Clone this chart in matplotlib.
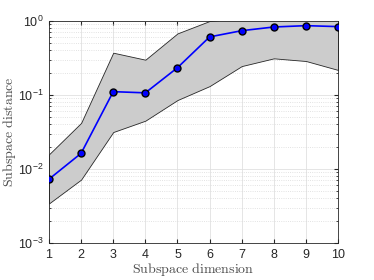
import numpy as np
import matplotlib
matplotlib.use("Agg")
import matplotlib.pyplot as plt
from matplotlib.ticker import LogLocator, NullFormatter

plt.rcParams['font.family'] = ['Liberation Sans', 'DejaVu Sans']
plt.rcParams['mathtext.fontset'] = 'custom'
plt.rcParams['mathtext.rm'] = 'Liberation Sans'
plt.rcParams['mathtext.it'] = 'Liberation Sans:italic'

# values
dims = [1, 2, 3, 4, 5, 6, 7, 8, 9, 10]
mean_dist = [0.0073, 0.0163, 0.111, 0.107, 0.234, 0.61, 0.74, 0.83, 0.865, 0.84]
upper = [0.0158, 0.042, 0.373, 0.30, 0.68, 1.0, 1.1, 1.15, 1.15, 1.1]
lower = [0.00343, 0.0072, 0.0316, 0.045, 0.0855, 0.132, 0.246, 0.313, 0.288, 0.218]

fig = plt.figure(figsize=(3.74, 2.8), dpi=100)
ax = fig.add_axes([0.131, 0.132, 0.773, 0.793])

ax.fill_between(dims, lower, upper, facecolor=(0.8, 0.8, 0.8),
                edgecolor=(0.15, 0.15, 0.15), linewidth=0.6, zorder=2)
ax.plot(dims, mean_dist, '-o', color='b', linewidth=1.2, markersize=5,
        markerfacecolor='b', markeredgecolor='k', markeredgewidth=1.0, zorder=3)

ax.set_yscale('log')
ax.set_xlim(1, 10)
ax.set_ylim(1e-3, 1)
ax.set_xticks(dims)
ax.yaxis.set_major_locator(LogLocator(base=10, numticks=10))
ax.yaxis.set_minor_locator(LogLocator(base=10, subs=np.arange(2, 10), numticks=10))
ax.yaxis.set_minor_formatter(NullFormatter())

ax.grid(True, which='major', color=(0.88, 0.88, 0.88), linewidth=0.6, zorder=0)
ax.grid(True, which='minor', axis='y', color=(0.85, 0.85, 0.85),
        linestyle=':', linewidth=0.6, zorder=0)
ax.set_axisbelow(True)

ax.tick_params(which='both', direction='in', top=True, right=True,
               labelsize=9, colors=(0.15, 0.15, 0.15))
ax.tick_params(which='major', length=3, pad=4)
ax.tick_params(which='minor', length=1.5)
for s in ax.spines.values():
    s.set_color((0.15, 0.15, 0.15))
    s.set_linewidth(0.6)

ax.set_xlabel(r'$\mathrm{Subspace\ dimension}$', math_fontfamily='cm',
              fontsize=10, color=(0.3, 0.3, 0.3), labelpad=0)
ax.set_ylabel(r'$\mathrm{Subspace\ distance}$', math_fontfamily='cm',
              fontsize=10, color=(0.3, 0.3, 0.3), labelpad=0)

fig.savefig('out.png', dpi=100)
